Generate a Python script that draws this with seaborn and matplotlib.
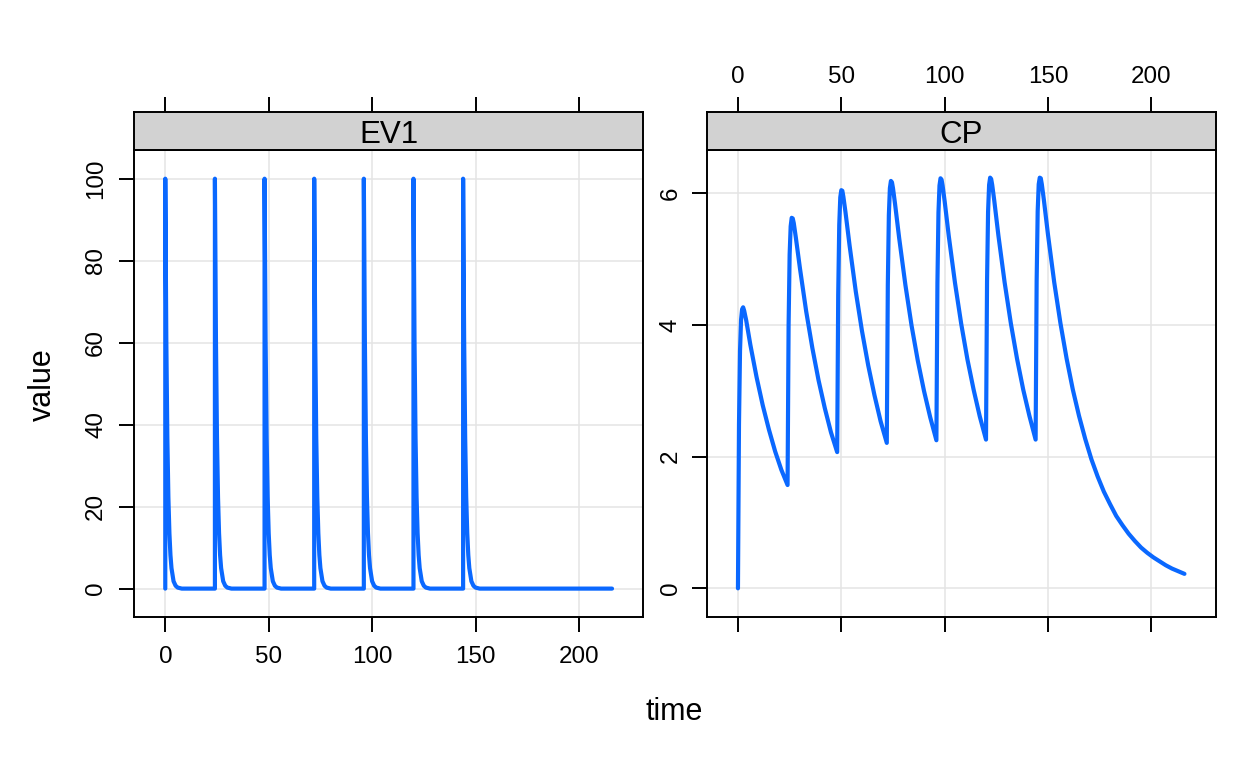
import matplotlib
matplotlib.use("Agg")
import matplotlib.pyplot as plt
import seaborn as sns
import pandas as pd

# dose compartment (EV1), amount vs time
ev1_time = [
    0, 0, 0.5, 1, 1.5, 2, 2.5, 3, 4, 5, 6, 8,
    24, 24, 24.5, 25, 25.5, 26, 26.5, 27, 28, 29, 30, 32,
    48, 48, 48.5, 49, 49.5, 50, 50.5, 51, 52, 53, 54, 56,
    72, 72, 72.5, 73, 73.5, 74, 74.5, 75, 76, 77, 78, 80,
    96, 96, 96.5, 97, 97.5, 98, 98.5, 99, 100, 101, 102, 104,
    120, 120, 120.5, 121, 121.5, 122, 122.5, 123, 124, 125, 126, 128,
    144, 144, 144.5, 145, 145.5, 146, 146.5, 147, 148, 149, 150, 152,
    216,
]
ev1_value = [
    0, 100, 60.7, 36.8, 22.3, 13.5, 8.2, 5.0, 1.8, 0.7, 0.25, 0,
    0, 100, 60.7, 36.8, 22.3, 13.5, 8.2, 5.0, 1.8, 0.7, 0.25, 0,
    0, 100, 60.7, 36.8, 22.3, 13.5, 8.2, 5.0, 1.8, 0.7, 0.25, 0,
    0, 100, 60.7, 36.8, 22.3, 13.5, 8.2, 5.0, 1.8, 0.7, 0.25, 0,
    0, 100, 60.7, 36.8, 22.3, 13.5, 8.2, 5.0, 1.8, 0.7, 0.25, 0,
    0, 100, 60.7, 36.8, 22.3, 13.5, 8.2, 5.0, 1.8, 0.7, 0.25, 0,
    0, 100, 60.7, 36.8, 22.3, 13.5, 8.2, 5.0, 1.8, 0.7, 0.25, 0,
    0,
]

# central concentration (CP)
cp_time = [
    0, 0.5, 1, 1.5, 2, 2.5, 3, 4, 6, 9, 12, 15, 18, 21,
    24, 24.5, 25, 25.5, 26, 26.5, 27, 28, 30, 33, 36, 39, 42, 45,
    48, 48.5, 49, 49.5, 50, 50.5, 51, 52, 54, 57, 60, 63, 66, 69,
    72, 72.5, 73, 73.5, 74, 74.5, 75, 76, 78, 81, 84, 87, 90, 93,
    96, 96.5, 97, 97.5, 98, 98.5, 99, 100, 102, 105, 108, 111, 114, 117,
    120, 120.5, 121, 121.5, 122, 122.5, 123, 124, 126, 129, 132, 135, 138, 141,
    144, 144.5, 145, 145.5, 146, 146.5, 147, 148, 150, 153, 156, 159, 162, 165,
    168, 171, 174, 177, 180, 183, 186, 189, 192, 195, 198, 201, 204, 207,
    210, 213, 216,
]
cp_value = [
    0, 2.49, 3.61, 4.08, 4.24, 4.27, 4.22, 4.07, 3.70, 3.21, 2.78, 2.41, 2.08, 1.80,
    1.57, 4.00, 5.07, 5.50, 5.63, 5.62, 5.55, 5.33, 4.86, 4.21, 3.65, 3.16, 2.74, 2.37,
    2.07, 4.46, 5.52, 5.94, 6.05, 6.04, 5.95, 5.72, 5.21, 4.51, 3.91, 3.39, 2.94, 2.54,
    2.21, 4.61, 5.67, 6.08, 6.19, 6.17, 6.08, 5.84, 5.32, 4.61, 3.99, 3.46, 3.00, 2.60,
    2.25, 4.64, 5.71, 6.12, 6.23, 6.21, 6.12, 5.88, 5.35, 4.64, 4.02, 3.48, 3.02, 2.61,
    2.26, 4.66, 5.72, 6.13, 6.24, 6.22, 6.13, 5.89, 5.36, 4.65, 4.03, 3.49, 3.02, 2.62,
    2.26, 4.67, 5.73, 6.14, 6.24, 6.23, 6.14, 5.90, 5.37, 4.65, 4.03, 3.49, 3.02, 2.62,
    2.27, 1.96, 1.70, 1.47, 1.28, 1.10, 0.96, 0.83, 0.72, 0.62, 0.54, 0.47, 0.41, 0.35,
    0.30, 0.26, 0.22,
]

panel_names = ["EV1", "CP"]
x_ticks = [0, 50, 100, 150, 200]
ev1_ticks = [0, 20, 40, 60, 80, 100]
cp_ticks = [0, 2, 4, 6]

sns.set_style("white")
plt.rcParams["font.family"] = ["Liberation Sans", "DejaVu Sans"]
plt.rcParams["text.color"] = "black"
plt.rcParams["xtick.color"] = "black"
plt.rcParams["ytick.color"] = "black"
plt.rcParams["axes.labelcolor"] = "black"

W, H = 1248, 768
blue = "#0A68FF"
grid_col = "#E4E4E4"
strip_col = "#D2D2D2"


def box(x0, y0, x1, y1):
    return [x0 / W, 1 - y1 / H, (x1 - x0) / W, (y1 - y0) / H]


fig = plt.figure(figsize=(W / 100, H / 100), dpi=100)

panels = [
    (ev1_time, ev1_value, ev1_ticks, (-7, 107), 134, 643.3, True, 8.3),
    (cp_time, cp_value, cp_ticks, (-0.44, 6.66), 706.7, 1215.7, False, 6.8),
]

for name, (tt, vv, yt, ylim, x0, x1, bottom_lab, ypad) in zip(panel_names, panels):
    ax = fig.add_axes(box(x0, 150, x1, 617.3))
    df = pd.DataFrame({"time": tt, "value": vv})
    sns.lineplot(data=df, x="time", y="value", sort=False, estimator=None,
                 color=blue, linewidth=3.0, ax=ax, zorder=3)
    ax.set_xlim(-15.12, 231.12)
    ax.set_ylim(*ylim)
    ax.set_xticks(x_ticks)
    ax.set_yticks(yt)
    ax.set_axisbelow(True)
    ax.grid(True, color=grid_col, linewidth=1.1)
    ax.set_xlabel("")
    ax.set_ylabel("")
    for s in ax.spines.values():
        s.set_visible(True)
        s.set_color("black")
        s.set_linewidth(1.4)
    ax.tick_params(axis="x", bottom=True, top=False, labelbottom=bottom_lab,
                   length=11, width=1.4, color="black", labelcolor="black",
                   labelsize=17.4, pad=10, direction="out")
    ax.tick_params(axis="y", left=True, right=False, length=11, width=1.4,
                   color="black", labelcolor="black", labelsize=17.4,
                   pad=ypad, direction="out")
    for lbl in ax.get_yticklabels():
        lbl.set_rotation(90)
        lbl.set_va("center")

    # strip on top of the panel
    st = fig.add_axes(box(x0, 111.7, x1, 150))
    st.set_facecolor(strip_col)
    st.set_xlim(-15.12, 231.12)
    st.set_ylim(0, 1)
    st.set_xticks(x_ticks)
    st.set_yticks([])
    for s in st.spines.values():
        s.set_visible(True)
        s.set_color("black")
        s.set_linewidth(1.4)
    st.tick_params(axis="x", top=True, bottom=False, labeltop=not bottom_lab,
                   labelbottom=False, length=11, width=1.4, color="black",
                   labelcolor="black", labelsize=17.4, pad=6.3, direction="out")
    st.text(0.5, 0.175, name, transform=st.transAxes, ha="center",
            va="baseline", fontsize=22.5, color="black")

fig.text(43 / W, 1 - 385 / H, "value", rotation=90, ha="center", va="center",
         fontsize=22, color="black")
fig.text(674 / W, 1 - 720 / H, "time", ha="center", va="baseline", fontsize=22,
         color="black")

fig.savefig("out.png", dpi=100)
